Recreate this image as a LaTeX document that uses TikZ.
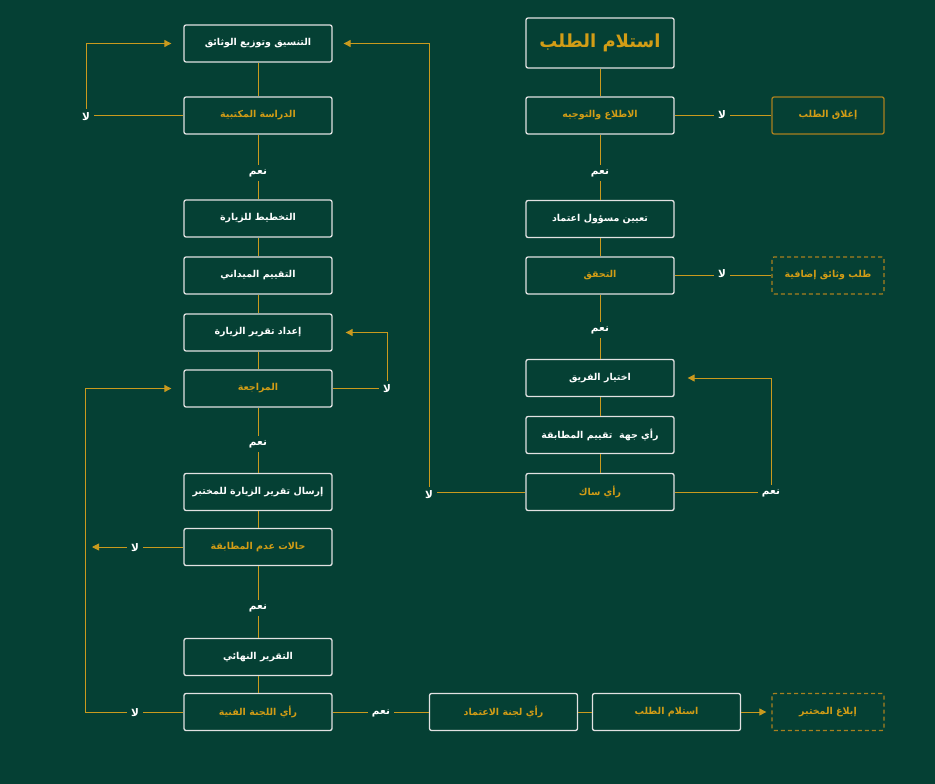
\documentclass[tikz,border=0pt]{standalone}
\usepackage{fontspec}
\newfontfamily\arabicfont[Script=Arabic]{DejaVu Sans}
\TeXXeTstate=1
\usetikzlibrary{arrows.meta}
\definecolor{bg}{HTML}{054034}
\definecolor{gold}{HTML}{D29D16}
\definecolor{goldline}{HTML}{C99A1E}
\definecolor{goldborder}{HTML}{A8801F}
\definecolor{boxline}{HTML}{E2E2E2}
\newcommand\artxt[1]{\arabicfont\bfseries\beginR #1\endR}
\tikzset{
  x=1pt,y=-1pt,
  stepbox/.style={draw=boxline,line width=1.3pt,rounded corners=2pt,minimum width=148pt,minimum height=37pt,inner sep=0pt,font=\fontsize{9.5}{11}\selectfont},
  wtxt/.style={text=white},
  gtxt/.style={text=gold},
  sidebox/.style={draw=goldborder,line width=1.3pt,rounded corners=2pt,minimum width=112pt,minimum height=37pt,inner sep=0pt,text=gold,font=\fontsize{9.5}{11}\selectfont},
  dashbox/.style={sidebox,dashed,dash pattern=on 4pt off 3pt},
  lbl/.style={text=white,inner sep=4pt,font=\fontsize{10.5}{12}\selectfont},
  conn/.style={draw=goldline,line width=0.9pt},
  arr/.style={conn,-{Triangle[length=7pt,width=7pt]}},
}
\begin{document}
\begin{tikzpicture}
\fill[bg] (0,0) rectangle (935,784);
\useasboundingbox (0,0) rectangle (935,784);
% left column
\node[stepbox,wtxt] (n1) at (258,43.5) {\artxt{التنسيق وتوزيع الوثائق}};
\node[stepbox,gtxt] (n2) at (258,115.5) {\artxt{الدراسة المكتبية}};
\node[lbl] (y1) at (258,173) {\artxt{نعم}};
\node[stepbox,wtxt] (n3) at (258,218.5) {\artxt{التخطيط للزيارة}};
\node[stepbox,wtxt] (n4) at (258,275.5) {\artxt{التقييم الميداني}};
\node[stepbox,wtxt] (n5) at (258,332.5) {\artxt{إعداد تقرير الزيارة}};
\node[stepbox,gtxt] (n6) at (258,388.5) {\artxt{المراجعة}};
\node[lbl] (y2) at (258,444) {\artxt{نعم}};
\node[stepbox,wtxt] (n7) at (258,492) {\artxt{إرسال تقرير الزيارة للمختبر}};
\node[stepbox,gtxt] (n8) at (258,547) {\artxt{حالات عدم المطابقة}};
\node[lbl] (y3) at (258,608) {\artxt{نعم}};
\node[stepbox,wtxt] (n9) at (258,657) {\artxt{التقرير النهائي}};
\node[stepbox,gtxt] (n10) at (258,712) {\artxt{رأي اللجنة الفنية}};
% right column
\node[stepbox,gtxt,minimum height=50pt,font=\fontsize{18}{21}\selectfont] (t) at (600,43) {\artxt{استلام الطلب}};
\node[stepbox,gtxt] (r1) at (600,115.5) {\artxt{الاطلاع والتوجيه}};
\node[lbl] (ry1) at (600,173) {\artxt{نعم}};
\node[stepbox,wtxt] (r2) at (600,219) {\artxt{تعيين مسؤول اعتماد}};
\node[stepbox,gtxt] (r3) at (600,275.5) {\artxt{التحقق}};
\node[lbl] (ry2) at (600,330) {\artxt{نعم}};
\node[stepbox,wtxt] (r4) at (600,378) {\artxt{اختيار الفريق}};
\node[stepbox,wtxt] (r5) at (600,435) {\artxt{رأي جهة\ \ تقييم المطابقة}};
\node[stepbox,gtxt] (r6) at (600,492) {\artxt{رأي ساك}};
% side boxes
\node[sidebox] (c1) at (828,115.5) {\artxt{إغلاق الطلب}};
\node[dashbox] (c2) at (828,275.5) {\artxt{طلب وثائق إضافية}};
\node[dashbox] (c3) at (828,712) {\artxt{إبلاغ المختبر}};
% bottom row
\node[stepbox,gtxt] (b1) at (503.5,712) {\artxt{رأي لجنة الاعتماد}};
\node[stepbox,gtxt] (b2) at (666.5,712) {\artxt{استلام الطلب}};
% labels
\node[lbl] (l1) at (86,117) {\artxt{لا}};
\node[lbl] (l2) at (387,389) {\artxt{لا}};
\node[lbl] (l3) at (135,713) {\artxt{لا}};
\node[lbl] (l4) at (135,548) {\artxt{لا}};
\node[lbl] (y4) at (381,713) {\artxt{نعم}};
\node[lbl] (lr1) at (722,115) {\artxt{لا}};
\node[lbl] (lr2) at (722,274) {\artxt{لا}};
\node[lbl] (yr3) at (771,493) {\artxt{نعم}};
\node[lbl] (lr3) at (429,495) {\artxt{لا}};
\coordinate (k1) at (85,712);
\coordinate (k2) at (92,547);
% left verticals
\draw[conn] (n1.south) -- (n2.north);
\draw[conn] (n2.south) -- (y1.north);
\draw[conn] (y1.south) -- (n3.north);
\draw[conn] (n3.south) -- (n4.north);
\draw[conn] (n4.south) -- (n5.north);
\draw[conn] (n5.south) -- (n6.north);
\draw[conn] (n6.south) -- (y2.north);
\draw[conn] (y2.south) -- (n7.north);
\draw[conn] (n7.south) -- (n8.north);
\draw[conn] (n8.south) -- (y3.north);
\draw[conn] (y3.south) -- (n9.north);
\draw[conn] (n9.south) -- (n10.north);
% right verticals
\draw[conn] (t.south) -- (r1.north);
\draw[conn] (r1.south) -- (ry1.north);
\draw[conn] (ry1.south) -- (r2.north);
\draw[conn] (r2.south) -- (r3.north);
\draw[conn] (r3.south) -- (ry2.north);
\draw[conn] (ry2.south) -- (r4.north);
\draw[conn] (r4.south) -- (r5.north);
\draw[conn] (r5.south) -- (r6.north);
% loops left
\draw[conn] (n2.west) -- (l1.east |- n2.west);
\draw[arr,shorten >=12pt] (l1.north) |- (n1.west);
\draw[conn] (n6.east) -- (l2.west |- n6.east);
\draw[arr,shorten >=13pt] (l2.north) |- (n5.east);
\draw[conn] (n10.west) -- (l3.east |- n10.west);
\draw[conn] (l3.west |- n10.west) -- (k1 |- n10.west);
\draw[arr,shorten >=12pt] (k1 |- n10.west) |- (n6.west);
\draw[conn] (n8.west) -- (l4.east |- n8.west);
\draw[arr] (l4.west |- n8.west) -- (k2 |- n8.west);
% bottom row
\draw[conn] (n10.east) -- (y4.west |- n10.east);
\draw[conn] (y4.east |- n10.east) -- (b1.west);
\draw[conn] (b1.east) -- (b2.west);
\draw[arr,shorten >=5pt] (b2.east) -- (c3.west);
% right side
\draw[conn] (r1.east) -- (lr1.west |- r1.east);
\draw[conn] (lr1.east |- r1.east) -- (c1.west);
\draw[conn] (r3.east) -- (lr2.west |- r3.east);
\draw[conn] (lr2.east |- r3.east) -- (c2.west);
\draw[conn] (r6.east) -- (yr3.west |- r6.east);
\draw[arr,shorten >=13pt] (yr3.north) |- (r4.east);
\draw[conn] (r6.west) -- (lr3.east |- r6.west);
\draw[arr,shorten >=11pt] (lr3.north) |- (n1.east);
\end{tikzpicture}
\end{document}
